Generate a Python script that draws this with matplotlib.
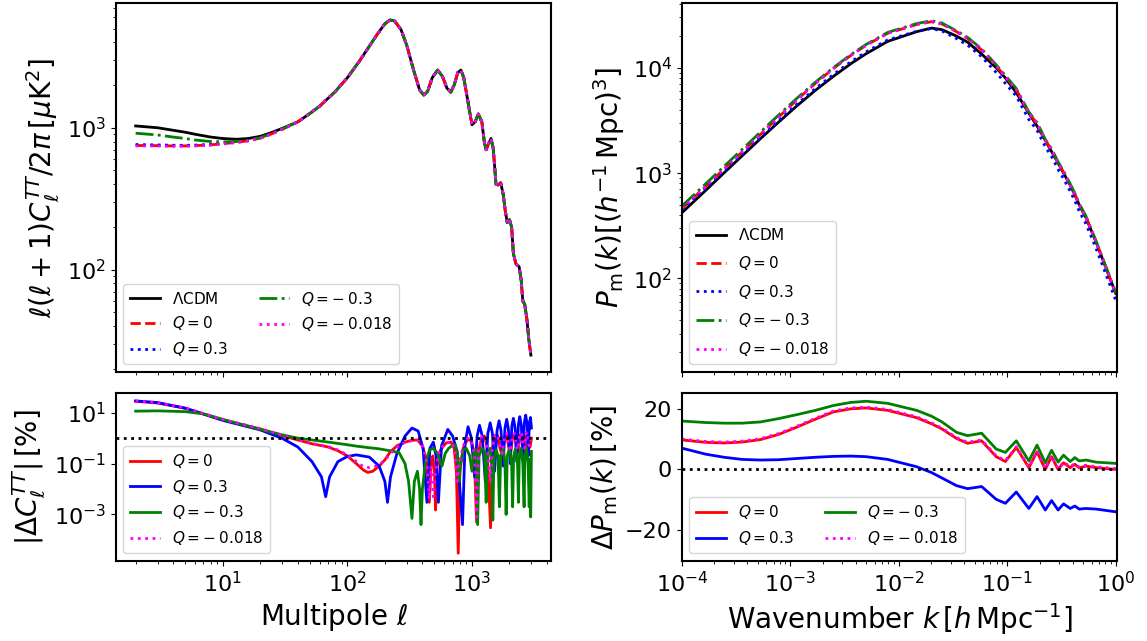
import numpy as np
import matplotlib
matplotlib.use('Agg')
import matplotlib.pyplot as plt

# ---- CMB TT spectrum (top left) ----
ell_low = [2, 3, 4, 5, 6, 8, 10, 13, 16, 20, 25, 30]
dl_lcdm_low = [1030, 1000, 960, 930, 900, 860, 840, 830, 840, 870, 930, 990]
dl_q0_low = [750, 748, 745, 745, 748, 758, 772, 790, 810, 845, 910, 975]
dl_q03_low = [762, 757, 753, 752, 755, 762, 776, 795, 815, 850, 915, 978]
dl_qm03_low = [915, 890, 860, 840, 820, 800, 795, 800, 815, 850, 915, 980]
dl_qm0018_low = [745, 743, 741, 741, 744, 754, 768, 787, 807, 843, 908, 974]

ell_high = [40, 50, 60, 80, 100, 125, 150, 175, 200, 220, 240, 270, 300,
            340, 380, 410, 440, 480, 530, 580, 630, 675, 720, 770, 815,
            860, 920, 1000, 1060, 1125, 1200, 1260, 1300, 1350, 1420, 1480,
            1560, 1620, 1700, 1780, 1850, 1920, 2000, 2080, 2150, 2250,
            2390, 2480, 2560, 2650, 2760, 2850, 2970]
dl_high = [1100, 1260, 1420, 1800, 2250, 2950, 3750, 4600, 5400, 5750,
           5650, 4900, 3800, 2550, 1850, 1700, 1800, 2250, 2550, 2300,
           1900, 1780, 2000, 2450, 2550, 2250, 1600, 1050, 1100, 1250,
           1100, 780, 700, 760, 840, 720, 400, 395, 410, 340, 260, 215,
           225, 200, 130, 110, 105, 85, 60, 57, 45, 33, 25]

# ---- |Delta C_l| in percent (bottom left) ----
ell_b = [2, 3, 5, 10, 20, 30, 40, 52, 62, 67, 72, 84, 100, 118, 150, 180,
         200, 210, 222, 250, 290, 330, 370, 405, 435, 460, 490, 515, 538,
         570, 640, 700, 760, 840, 880, 930, 990, 1050, 1100, 1150, 1210,
         1280, 1340, 1400, 1460, 1520, 1590, 1650, 1710, 1780, 1840, 1900,
         1960, 2030, 2090, 2150, 2220, 2290, 2360, 2420, 2490, 2560, 2630,
         2700, 2770, 2830, 2890, 2950, 3000]
dcl_q03 = [29, 25, 15, 5, 2.1, 0.98, 0.45, 0.12, 0.03, 0.005, 0.03, 0.12,
           0.19, 0.22, 0.18, 0.08, 0.02, 0.003, 0.03, 0.25, 1.2, 2.5, 1.9,
           0.4, 0.003, 0.4, 0.7, 0.2, 0.003, 0.5, 2.2, 1.2, 0.3, 0.0004,
           0.6, 2.8, 1.0, 0.03, 1.2, 3.2, 1.2, 0.02, 1.5, 4.0, 1.5, 0.05,
           2.0, 4.8, 2.0, 0.08, 2.5, 5.5, 2.3, 0.1, 3.0, 6.0, 2.5, 0.12,
           3.5, 7.0, 3.0, 0.15, 4.0, 8.0, 3.5, 0.2, 4.0, 6.5, 2.5]

ell_r = [2, 3, 5, 10, 20, 30, 40, 52, 70, 84, 100, 118, 135, 146, 160, 180,
         200, 220, 250, 290, 330, 365, 400, 430, 455, 470, 485, 500, 510,
         525, 560, 620, 680, 720, 750, 776, 800, 850, 920, 980, 1040, 1090,
         1130, 1200, 1260, 1320, 1410, 1460, 1530, 1600, 1680, 1750, 1830,
         1900, 1980, 2040, 2120, 2200, 2280, 2340, 2420, 2500, 2580, 2650,
         2720, 2800, 2870, 2940, 3000]
dcl_q0 = [28, 24, 15, 5.2, 2.3, 1.25, 0.85, 0.6, 0.45, 0.32, 0.2, 0.1,
          0.055, 0.045, 0.05, 0.08, 0.14, 0.28, 0.5, 0.7, 0.82, 0.85, 0.5,
          0.15, 0.003, 0.1, 0.2, 0.05, 0.0015, 0.08, 0.35, 0.65, 0.7, 0.4,
          0.05, 0.00003, 0.05, 0.4, 0.9, 0.8, 0.3, 0.0005, 0.3, 1.1, 1.2,
          0.5, 0.0003, 0.4, 1.2, 1.3, 0.4, 0.2, 1.2, 1.3, 0.4, 0.25, 1.2,
          1.3, 0.4, 0.3, 1.3, 1.3, 0.4, 0.3, 1.2, 1.2, 0.4, 0.5, 1.0]

ell_m = [2, 3, 5, 10, 20, 30, 40, 52, 70, 84, 100, 118, 135, 150, 170, 190,
         210, 230, 260, 300, 340, 370, 405, 435, 455, 470, 490, 510, 540,
         600, 680, 730, 760, 790, 850, 920, 990, 1050, 1090, 1130, 1200,
         1260, 1330, 1400, 1460, 1530, 1600, 1680, 1750, 1830, 1900, 1980,
         2040, 2120, 2200, 2280, 2340, 2420, 2500, 2580, 2650, 2720, 2800,
         2870, 2940, 3000]
dcl_qm0018 = [29, 25, 15.5, 5.4, 2.4, 1.3, 0.88, 0.62, 0.47, 0.34, 0.22,
              0.12, 0.075, 0.07, 0.08, 0.11, 0.18, 0.3, 0.52, 0.72, 0.82,
              0.82, 0.45, 0.1, 0.004, 0.08, 0.005, 0.05, 0.25, 0.6, 0.72,
              0.35, 0.02, 0.1, 0.5, 1.0, 0.8, 0.2, 0.0008, 0.3, 1.2, 1.3,
              0.4, 0.02, 0.5, 1.3, 1.4, 0.5, 0.25, 1.3, 1.5, 0.5, 0.3, 1.4,
              1.5, 0.5, 0.35, 1.5, 1.6, 0.5, 0.4, 1.6, 1.7, 0.5, 0.6, 1.2]

ell_g = [2, 3, 5, 7, 10, 14, 20, 30, 40, 52, 70, 84, 100, 120, 150, 180,
         220, 260, 290, 310, 330, 345, 365, 380, 390, 400, 423, 457, 490,
         530, 575, 610, 650, 690, 730, 760, 790, 810, 850, 900, 960, 1000,
         1040, 1080, 1110, 1140, 1200, 1260, 1300, 1330, 1400, 1440, 1470,
         1500, 1560, 1620, 1660, 1700, 1780, 1840, 1880, 1920, 2000, 2080,
         2120, 2160, 2240, 2320, 2360, 2400, 2480, 2560, 2620, 2660, 2740,
         2820, 2880, 2920, 2960, 3000]
dcl_qm03 = [11.5, 11.8, 11, 9, 5.5, 3.5, 2.2, 1.35, 1.0, 0.85, 0.7, 0.62,
            0.55, 0.48, 0.42, 0.38, 0.32, 0.27, 0.1, 0.02, 0.0007, 0.02,
            0.05, 0.01, 0.0004, 0.01, 0.1, 0.35, 0.4, 0.25, 0.08, 0.25, 0.4,
            0.5, 0.55, 0.3, 0.02, 0.1, 0.35, 0.4, 0.2, 0.05, 0.3, 0.35,
            0.0004, 0.2, 0.4, 0.3, 0.003, 0.2, 0.4, 0.08, 0.0006, 0.15,
            0.35, 0.2, 0.002, 0.2, 0.4, 0.1, 0.001, 0.2, 0.4, 0.1, 0.002,
            0.2, 0.4, 0.1, 0.003, 0.2, 0.4, 0.1, 0.002, 0.2, 0.4, 0.1, 0.002,
            0.15, 0.0008, 0.3]

# ---- Matter power spectrum (right) ----
k = [1e-4, 1.67e-4, 2.46e-4, 3.6e-4, 5.3e-4, 7.8e-4, 1.15e-3, 1.7e-3,
     2.5e-3, 3.6e-3, 5e-3, 7.9e-3, 1.46e-2, 2.0e-2, 2.5e-2, 3.4e-2, 4.3e-2,
     5.8e-2, 7.9e-2, 9.6e-2, 0.121, 0.158, 0.188, 0.224, 0.256, 0.294,
     0.33, 0.38, 0.42, 0.46, 0.53, 0.66, 1.0]
pk_lcdm = [420, 690, 1010, 1460, 2120, 3050, 4350, 6100, 8300, 10900, 13600,
           17800, 22000, 23800, 23000, 20000, 17500, 13500, 10000, 8000,
           5800, 3700, 2800, 2050, 1600, 1250, 1000, 770, 620, 500, 380, 220,
           72]
dpk_q0 = [9.7, 8.9, 8.7, 9.0, 9.8, 11.5, 13.9, 16.5, 18.9, 19.9, 20.2, 19.4,
          17.0, 15.0, 13.3, 10.2, 8.6, 9.4, 4.2, 2.6, 7.2, 0.6, 5.8, 0.0,
          4.2, 0.0, 2.2, 0.6, 1.7, 0.5, 1.1, 0.6, 0.0]
dpk_q03 = [7.0, 5.0, 4.0, 3.3, 3.1, 3.2, 3.6, 4.0, 4.3, 4.4, 4.2, 3.3, 0.9,
           -1.0, -2.8, -5.3, -6.3, -5.6, -9.8, -11.1, -7.4, -12.8, -8.9,
           -13.3, -10.2, -13.3, -11.3, -12.8, -12.0, -13.0, -12.8, -13.0,
           -13.9]
dpk_qm03 = [15.9, 15.4, 15.2, 15.2, 15.6, 16.7, 18.0, 19.4, 21.0, 22.0, 22.4,
            21.7, 19.4, 17.5, 15.6, 12.2, 11.1, 11.9, 6.7, 5.6, 9.4, 2.8,
            8.0, 2.2, 6.3, 2.4, 4.7, 2.6, 3.9, 2.8, 3.1, 2.4, 2.0]
dpk_qm0018 = [10.0, 9.2, 9.0, 9.3, 10.1, 11.8, 14.2, 16.8, 19.2, 20.2, 20.5,
              19.7, 17.3, 15.3, 13.6, 10.5, 8.9, 9.7, 4.5, 2.9, 7.5, 0.9,
              6.1, 0.3, 4.5, 0.3, 2.5, 0.9, 2.0, 0.8, 1.4, 0.9, 0.3]

labels = [r'$\Lambda$CDM', r'$Q=0$', r'$Q=0.3$', r'$Q=-\:0.3$',
          r'$Q=-\:0.018$']

plt.rcParams['axes.linewidth'] = 1.5
plt.rcParams['xtick.labelsize'] = 16
plt.rcParams['ytick.labelsize'] = 16

fig = plt.figure(figsize=(11.47, 6.41), dpi=100)
gs = fig.add_gridspec(2, 2, height_ratios=[2.2, 1], left=0.101, right=0.974,
                      top=0.995, bottom=0.125, hspace=0.08, wspace=0.3)
ax1 = fig.add_subplot(gs[0, 0])
ax3 = fig.add_subplot(gs[1, 0], sharex=ax1)
ax2 = fig.add_subplot(gs[0, 1])
ax4 = fig.add_subplot(gs[1, 1], sharex=ax2)

lw = 2
lab_fs = 20
leg_fs = 11

# top left
ax1.plot(ell_low + ell_high, dl_lcdm_low + dl_high, 'k-', lw=lw, label=labels[0])
ax1.plot(ell_low + ell_high, dl_q0_low + dl_high, 'r--', lw=lw, label=labels[1])
ax1.plot(ell_low + ell_high, dl_q03_low + dl_high, 'b:', lw=lw, label=labels[2])
ax1.plot(ell_low + ell_high, dl_qm03_low + dl_high, 'g-.', lw=lw, label=labels[3])
ax1.plot(ell_low + ell_high, dl_qm0018_low + dl_high, ':', color='magenta',
         lw=lw, label=labels[4])
ax1.set_xscale('log')
ax1.set_yscale('log')
ax1.set_ylabel(r'$\ell(\ell+1)C_\ell^{TT}/2\pi\,[\mu{\rm K}^2]$', fontsize=lab_fs)
ax1.legend(loc='lower left', ncol=2, fontsize=leg_fs)
plt.setp(ax1.get_xticklabels(), visible=False)

# bottom left
ax3.plot(ell_r, dcl_q0, 'r-', lw=lw, label=labels[1])
ax3.plot(ell_b, dcl_q03, 'b-', lw=lw, label=labels[2])
ax3.plot(ell_g, dcl_qm03, 'g-', lw=lw, label=labels[3])
ax3.plot(ell_m, dcl_qm0018, ':', color='magenta', lw=lw, label=labels[4])
ax3.axhline(1, color='k', ls=':', lw=2)
ax3.set_yscale('log')
ax3.set_xlabel(r'Multipole $\ell$', fontsize=lab_fs)
ax3.set_ylabel(r'$|\Delta C_\ell^{TT}|\,[\%]$', fontsize=lab_fs)
ax3.legend(loc='lower left', fontsize=leg_fs)

# top right
pk = np.array(pk_lcdm)
ax2.plot(k, pk, 'k-', lw=lw, label=labels[0])
ax2.plot(k, pk * (1 + np.array(dpk_q0) / 100), 'r--', lw=lw, label=labels[1])
ax2.plot(k, pk * (1 + np.array(dpk_q03) / 100), 'b:', lw=lw, label=labels[2])
ax2.plot(k, pk * (1 + np.array(dpk_qm03) / 100), 'g-.', lw=lw, label=labels[3])
ax2.plot(k, pk * (1 + np.array(dpk_qm0018) / 100), ':', color='magenta',
         lw=lw, label=labels[4])
ax2.set_xscale('log')
ax2.set_yscale('log')
ax2.set_ylim(13, 41000)
ax2.set_ylabel(r'$P_{\rm m}(k)[(h^{-1}\,{\rm Mpc})^3]$', fontsize=lab_fs)
ax2.legend(loc='lower left', fontsize=leg_fs, labelspacing=0.7)
plt.setp(ax2.get_xticklabels(), visible=False)

# bottom right
ax4.plot(k, dpk_q0, 'r-', lw=lw, label=labels[1])
ax4.plot(k, dpk_q03, 'b-', lw=lw, label=labels[2])
ax4.plot(k, dpk_qm03, 'g-', lw=lw, label=labels[3])
ax4.plot(k, dpk_qm0018, ':', color='magenta', lw=lw, label=labels[4])
ax4.axhline(0, color='k', ls=':', lw=2)
ax4.set_xlim(1e-4, 1.03)
ax4.set_ylim(-30, 25)
ax4.set_xlabel(r'Wavenumber $k\,[h\,{\rm Mpc}^{-1}]$', fontsize=lab_fs)
ax4.set_ylabel(r'$\Delta P_{\rm m}(k)\,[\%]$', fontsize=lab_fs)
ax4.legend(loc='lower left', ncol=2, fontsize=leg_fs)

fig.savefig('out.png', dpi=100)
